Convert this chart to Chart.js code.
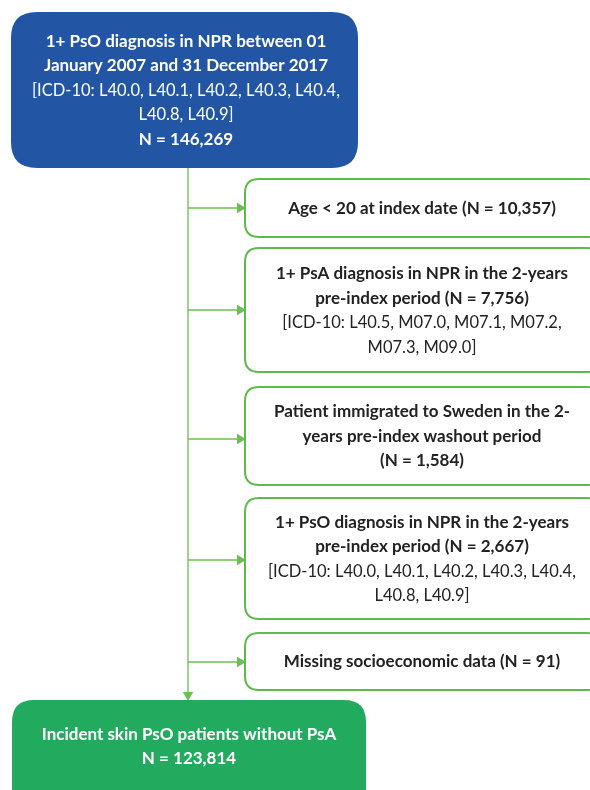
<!DOCTYPE html>
<html>
<head>
<meta charset="utf-8">
<script src="https://cdn.jsdelivr.net/npm/chart.js@4.4.1/dist/chart.umd.min.js"></script>
<style>
  html, body { margin: 0; padding: 0; background: #fff; }
  #wrap { width: 590px; height: 790px; }
</style>
</head>
<body>
<div id="wrap"><canvas id="flow" width="590" height="790"></canvas></div>
<script>
// ---- data (text of the flow boxes) ----
var startTitle  = ["1+ PsO diagnosis in NPR between 01", "January 2007 and 31 December 2017"];
var startCodes  = ["[ICD-10: L40.0, L40.1, L40.2, L40.3, L40.4,", "L40.8, L40.9]"];
var startN      = 146269;

var exclTitles = [
	["Age < 20 at index date (N = 10,357)"],
	["1+ PsA diagnosis in NPR in the 2-years", "pre-index period (N = 7,756)"],
	["Patient immigrated to Sweden in the 2-", "years pre-index washout period", "(N = 1,584)"],
	["1+ PsO diagnosis in NPR in the 2-years", "pre-index period (N = 2,667)"],
	["Missing socioeconomic data (N = 91)"]
];
var exclCodes = [
	[],
	["[ICD-10: L40.5, M07.0, M07.1, M07.2,", "M07.3, M09.0]"],
	[],
	["[ICD-10: L40.0, L40.1, L40.2, L40.3, L40.4,", "L40.8, L40.9]"],
	[]
];
var exclCounts = [10357, 7756, 1584, 2667, 91];

var finalTitle = ["Incident skin PsO patients without PsA"];
var finalN     = 123814;

// ---- layout (chart units = pixels on a 590 x 790 grid) ----
var trunkX = 188;
var startBox = { x0: 11, x1: 358, y0: 12, y1: 168, r: 26, fill: "#2256a5" };
var finalBox = { x0: 12, x1: 366, y0: 700, y1: 812, r: 22, fill: "#22ab5e" };
var exclBoxes = [
	{ y0: 179, y1: 237, arrowY: 208 },
	{ y0: 248, y1: 372, arrowY: 310 },
	{ y0: 387, y1: 485, arrowY: 439 },
	{ y0: 498, y1: 619, arrowY: 560 },
	{ y0: 633, y1: 690, arrowY: 662 }
];
var exclX0 = 245, exclX1 = 600;
var lineGreen = "#6cbf52";
var boxGreen = "#5fba4e";
var FONT = "Lato, 'Open Sans', sans-serif";
var BOLD_PX = 17, REG_PX = 16.5;
var LINE_H = 24.5;

function fmt(n) { return n.toLocaleString("en-US"); }

// ---- datasets: connectors and arrowheads ----
var datasets = [];
datasets.push({
	type: "line",
	data: [{ x: trunkX, y: startBox.y1 }, { x: trunkX, y: finalBox.y0 - 8 }],
	borderColor: lineGreen, borderWidth: 1.3, pointRadius: 0
});
exclBoxes.forEach(function(b) {
	datasets.push({
		type: "line",
		data: [{ x: trunkX, y: b.arrowY }, { x: exclX0 - 8, y: b.arrowY }],
		borderColor: lineGreen, borderWidth: 1.3, pointRadius: 0
	});
});
var heads = exclBoxes.map(function(b) { return { x: exclX0 - 5, y: b.arrowY }; });
heads.push({ x: trunkX, y: finalBox.y0 - 5 });
datasets.push({
	type: "scatter",
	data: heads,
	pointStyle: "triangle",
	pointRadius: 6,
	pointRotation: heads.map(function(h, i) { return i < exclBoxes.length ? 90 : 180; }),
	backgroundColor: lineGreen, borderColor: lineGreen, borderWidth: 0
});

// ---- plugin: boxes and their text, placed through the chart scales ----
function roundRect(ctx, x0, y0, x1, y1, r) {
	ctx.beginPath();
	ctx.moveTo(x0 + r, y0);
	ctx.lineTo(x1 - r, y0);
	ctx.quadraticCurveTo(x1, y0, x1, y0 + r);
	ctx.lineTo(x1, y1 - r);
	ctx.quadraticCurveTo(x1, y1, x1 - r, y1);
	ctx.lineTo(x0 + r, y1);
	ctx.quadraticCurveTo(x0, y1, x0, y1 - r);
	ctx.lineTo(x0, y0 + r);
	ctx.quadraticCurveTo(x0, y0, x0 + r, y0);
	ctx.closePath();
}

function drawLines(ctx, xs, ys, cx, cy, lines, color) {
	var top = cy - (lines.length - 1) * LINE_H / 2;
	ctx.fillStyle = color;
	ctx.textAlign = "center";
	ctx.textBaseline = "middle";
	lines.forEach(function(l, i) {
		ctx.font = l.bold ? "bold " + BOLD_PX + "px " + FONT : REG_PX + "px " + FONT;
		ctx.fillText(l.text, xs.getPixelForValue(cx), ys.getPixelForValue(top + i * LINE_H));
	});
}

function mk(arr, bold) { return arr.map(function(t) { return { text: t, bold: bold }; }); }

var flowBoxes = {
	id: "flowBoxes",
	afterDatasetsDraw: function(chart) {
		var ctx = chart.ctx, xs = chart.scales.x, ys = chart.scales.y;
		function px(v) { return xs.getPixelForValue(v); }
		function py(v) { return ys.getPixelForValue(v); }
		ctx.save();

		// start box
		roundRect(ctx, px(startBox.x0), py(startBox.y0), px(startBox.x1), py(startBox.y1), startBox.r);
		ctx.fillStyle = startBox.fill;
		ctx.fill();
		var sl = mk(startTitle, true).concat(mk(startCodes, false)).concat(mk(["N = " + fmt(startN)], true));
		drawLines(ctx, xs, ys, 186, 90.5, sl, "#ffffff");

		// exclusion boxes
		exclBoxes.forEach(function(b, i) {
			roundRect(ctx, px(exclX0), py(b.y0), px(exclX1), py(b.y1), 14);
			ctx.fillStyle = "#ffffff";
			ctx.fill();
			ctx.lineWidth = 2;
			ctx.strokeStyle = boxGreen;
			ctx.stroke();
			var el = mk(exclTitles[i], true).concat(mk(exclCodes[i], false));
			drawLines(ctx, xs, ys, 422, (b.y0 + b.y1) / 2 + 0.5, el, "#222222");
		});

		// final box
		roundRect(ctx, px(finalBox.x0), py(finalBox.y0), px(finalBox.x1), py(finalBox.y1), finalBox.r);
		ctx.fillStyle = finalBox.fill;
		ctx.fill();
		var fl = mk(finalTitle, true).concat(mk(["N = " + fmt(finalN)], true));
		drawLines(ctx, xs, ys, 189, 746.5, fl, "#ffffff");

		ctx.restore();
	}
};

var flow = {};
flow.Chart = new Chart(document.getElementById("flow"), {
	type: "scatter",
	data: { datasets: datasets },
	options: {
		responsive: false,
		animation: false,
		clip: false,
		layout: { padding: 0, autoPadding: false },
		plugins: { legend: { display: false }, tooltip: { enabled: false } },
		scales: {
			x: { type: "linear", min: 0, max: 590, display: false },
			y: { type: "linear", min: 0, max: 790, reverse: true, display: false }
		}
	},
	plugins: [flowBoxes]
});
</script>
</body>
</html>
